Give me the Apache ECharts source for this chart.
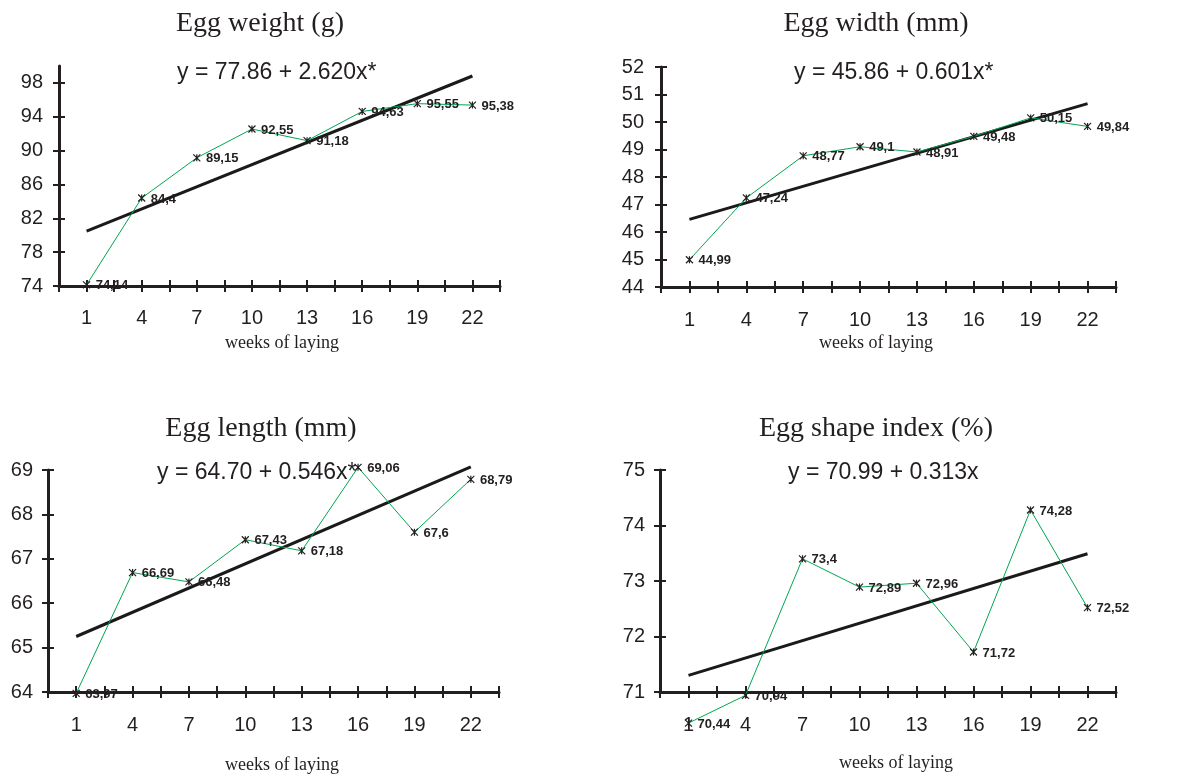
<!DOCTYPE html>
<html>
<head>
<meta charset="utf-8">
<title>Egg traits over weeks of laying</title>
<script src="https://cdn.jsdelivr.net/npm/echarts@6/dist/echarts.min.js"></script>
<style>
  html, body { margin: 0; padding: 0; background: #fff; }
  #chart { width: 1195px; height: 778px; }
</style>
</head>
<body>
<div id="chart"></div>
<script>
// weeks of laying (x categories)
const weeks = [1, 4, 7, 10, 13, 16, 19, 22];

const eggWeight = [74.14, 84.4, 89.15, 92.55, 91.18, 94.63, 95.55, 95.38];
const eggWidth = [44.99, 47.24, 48.77, 49.1, 48.91, 49.48, 50.15, 49.84];
const eggLength = [63.97, 66.69, 66.48, 67.43, 67.18, 69.06, 67.6, 68.79];
const shapeIndex = [70.44, 70.94, 73.4, 72.89, 72.96, 71.72, 74.28, 72.52];

// regression line end values (at week 1 and week 22)
const weightTrend = [80.48, 98.82];
const widthTrend = [46.46, 50.67];
const lengthTrend = [65.25, 69.07];
const shapeTrend = [71.3, 73.49];

// y tick labels
const weightTicks = [74, 78, 82, 86, 90, 94, 98];
const widthTicks = [44, 45, 46, 47, 48, 49, 50, 51, 52];
const lengthTicks = [64, 65, 66, 67, 68, 69];
const shapeTicks = [71, 72, 73, 74, 75];

const INK = "#231f20";
const GREEN = "#00a651";
const SANS = '"Liberation Sans", Arial, sans-serif';
const SERIF = '"Liberation Serif", "Times New Roman", serif';

// x ticks every half step between the labelled weeks
const xTicks = [];
weeks.forEach(w => { xTicks.push(w - 1.5, w); });
xTicks.push(weeks[weeks.length - 1] + 1.5);

const panels = [
  { title: "Egg weight (g)", eq: "y = 77.86 + 2.620x*", values: eggWeight, trend: weightTrend, ticks: weightTicks,
    min: 74, max: 100, grid: { left: 59, top: 66, width: 441, height: 220 },
    titlePos: [260, 24], eqPos: [177, 73], namePos: [282, 343], xMargin: 22, yMargin: 16 },
  { title: "Egg width (mm)", eq: "y = 45.86 + 0.601x*", values: eggWidth, trend: widthTrend, ticks: widthTicks,
    min: 44, max: 52, grid: { left: 661, top: 67, width: 455, height: 220 },
    titlePos: [876, 24], eqPos: [794, 73], namePos: [876, 343], xMargin: 23, yMargin: 17 },
  { title: "Egg length (mm)", eq: "y = 64.70 + 0.546x*", values: eggLength, trend: lengthTrend, ticks: lengthTicks,
    min: 64, max: 69, grid: { left: 48, top: 470, width: 451, height: 222 },
    titlePos: [261, 429], eqPos: [157, 473], namePos: [282, 765], xMargin: 23, yMargin: 15 },
  { title: "Egg shape index (%)", eq: "y = 70.99 + 0.313x", values: shapeIndex, trend: shapeTrend, ticks: shapeTicks,
    min: 71, max: 75, grid: { left: 660, top: 470, width: 456, height: 222 },
    titlePos: [876, 429], eqPos: [788, 473], namePos: [896, 763], xMargin: 23, yMargin: 15 }
];

const grid = [], xAxis = [], yAxis = [], series = [], graphic = [];

panels.forEach((p, i) => {
  grid.push(p.grid);

  // main axes: line, outer ticks, labels
  xAxis.push({
    type: "value", gridIndex: i, position: "bottom", min: -0.5, max: 23.5,
    axisLine: { show: true, onZero: false, lineStyle: { color: INK, width: 3 } },
    axisTick: { show: true, length: 6, customValues: xTicks, lineStyle: { color: INK, width: 2 } },
    axisLabel: { customValues: weeks, margin: p.xMargin, color: INK, fontFamily: SANS, fontSize: 20 },
    splitLine: { show: false }
  });
  yAxis.push({
    type: "value", gridIndex: i, position: "left", min: p.min, max: p.max,
    axisLine: { show: true, onZero: false, lineStyle: { color: INK, width: 3 } },
    axisTick: { show: true, length: 6, customValues: p.ticks, lineStyle: { color: INK, width: 2 } },
    axisLabel: { customValues: p.ticks, margin: p.yMargin, color: INK, fontFamily: SANS, fontSize: 20 },
    splitLine: { show: false }
  });
  // second pair only for the inner half of the crossing ticks
  xAxis.push({
    type: "value", gridIndex: i, position: "bottom", min: -0.5, max: 23.5,
    axisLine: { show: false, onZero: false },
    axisTick: { show: true, inside: true, length: 6, customValues: xTicks, lineStyle: { color: INK, width: 2 } },
    axisLabel: { show: false }, splitLine: { show: false }
  });
  yAxis.push({
    type: "value", gridIndex: i, position: "left", min: p.min, max: p.max,
    axisLine: { show: false, onZero: false },
    axisTick: { show: true, inside: true, length: 6, customValues: p.ticks, lineStyle: { color: INK, width: 2 } },
    axisLabel: { show: false }, splitLine: { show: false }
  });

  series.push({
    name: p.title + " trend", type: "line", xAxisIndex: i * 2, yAxisIndex: i * 2,
    data: [[weeks[0], p.trend[0]], [weeks[weeks.length - 1], p.trend[1]]],
    symbol: "none", silent: true, clip: false, z: 3,
    lineStyle: { color: "#1a1a1a", width: 3 }
  });
  series.push({
    name: p.title, type: "line", xAxisIndex: i * 2, yAxisIndex: i * 2,
    data: weeks.map((w, k) => [w, p.values[k]]),
    clip: false, z: 4,
    symbol: "path://M0,0L8,8M8,0L0,8M4,0L4,8", symbolSize: 7,
    itemStyle: { color: INK, borderColor: INK, borderWidth: 1.2 },
    lineStyle: { color: GREEN, width: 1 },
    label: {
      show: true, position: "right", distance: 5, offset: [0, 1],
      color: INK, fontFamily: SANS, fontWeight: "bold", fontSize: 13,
      formatter: d => String(d.value[1]).replace(".", ",")
    }
  });

  graphic.push({
    type: "text", x: p.titlePos[0], y: p.titlePos[1],
    style: { text: p.title, font: "28px " + SERIF, fill: INK, align: "center", verticalAlign: "middle" }
  });
  graphic.push({
    type: "text", x: p.eqPos[0], y: p.eqPos[1],
    style: { text: p.eq, font: "23px " + SANS, fill: INK, align: "left", verticalAlign: "middle" }
  });
  graphic.push({
    type: "text", x: p.namePos[0], y: p.namePos[1],
    style: { text: "weeks of laying", font: "18px " + SERIF, fill: INK, align: "center", verticalAlign: "middle" }
  });
});

const myChart = echarts.init(document.getElementById("chart"));
myChart.setOption({
  backgroundColor: "#ffffff",
  animation: false,
  grid: grid,
  xAxis: xAxis,
  yAxis: yAxis,
  series: series,
  graphic: graphic
});
</script>
</body>
</html>
